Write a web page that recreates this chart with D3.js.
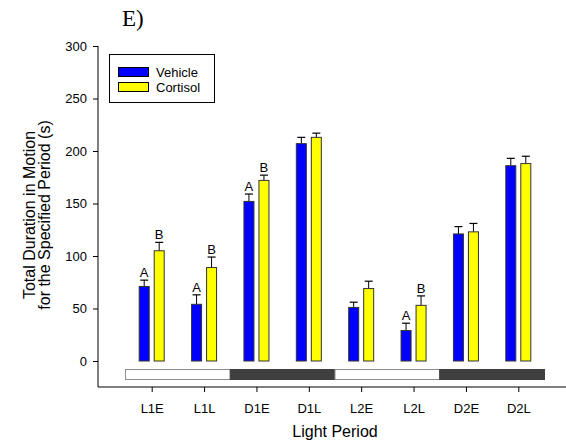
<!DOCTYPE html>
<html>
<head>
<meta charset="utf-8">
<script src="https://cdn.jsdelivr.net/npm/d3@7/dist/d3.min.js"></script>
<style>
  body { margin: 0; background: #fff; }
  svg { display: block; }
  text { font-family: "Liberation Sans", Arial, sans-serif; }
</style>
</head>
<body>
<svg id="chart" width="566" height="446"></svg>
<script>
const categories = ["L1E", "L1L", "D1E", "D1L", "L2E", "L2L", "D2E", "D2L"];
const seriesNames = ["Vehicle", "Cortisol"];
const vehicle = [71, 54, 152, 207, 51, 29, 121, 186];
const vehicleErr = [6, 9, 7, 6, 5, 7, 7, 7];
const cortisol = [105, 89, 172, 213, 69, 53, 123, 188];
const cortisolErr = [8, 10, 5, 4, 7, 9, 8, 7];
const vehicleLetters = ["A", "A", "A", "", "", "A", "", ""];
const cortisolLetters = ["B", "B", "B", "", "", "B", "", ""];
const lightPhases = ["light", "dark", "light", "dark"];
const yTicks = [0, 50, 100, 150, 200, 250, 300];

const colors = { Vehicle: "#0000ff", Cortisol: "#ffff00" };
const svg = d3.select("#chart");

const x = d3.scalePoint().domain(categories).range([151.7, 518.3]);
const step = x.step();
const y = d3.scaleLinear().domain([0, 300]).range([361, 46]);
const xAxisY = 387;
const axisX = 98;
const sans = "'Liberation Sans', Arial, sans-serif";

// Y axis
const yAxis = svg.append("g").attr("transform", `translate(${axisX},0)`)
  .call(d3.axisLeft(y).tickValues(yTicks).tickSize(5).tickPadding(6));
yAxis.select(".domain").remove();
yAxis.selectAll("text").attr("font-size", 13).attr("fill", "#000").style("font-family", sans);
yAxis.selectAll("line").attr("stroke", "#000");
svg.append("line").attr("x1", axisX).attr("x2", axisX).attr("y1", y(300)).attr("y2", xAxisY)
  .attr("stroke", "#000").attr("stroke-width", 1);

// X axis
const xAxis = svg.append("g").attr("transform", `translate(0,${xAxisY})`)
  .call(d3.axisBottom(x).tickSize(5).tickPadding(12));
xAxis.select(".domain").remove();
xAxis.selectAll("text").attr("font-size", 13).attr("fill", "#000").style("font-family", sans);
xAxis.selectAll("line").attr("stroke", "#000");
svg.append("line").attr("x1", axisX).attr("x2", 566).attr("y1", xAxisY).attr("y2", xAxisY)
  .attr("stroke", "#000").attr("stroke-width", 1);

// Light/dark band
lightPhases.forEach((p, i) => {
  const c0 = categories[i * 2], c1 = categories[i * 2 + 1];
  const x0 = x(c0) - step / 2, x1 = x(c1) + step / 2;
  svg.append("rect").attr("x", x0).attr("y", 369.5).attr("width", x1 - x0).attr("height", 10)
    .attr("fill", p === "light" ? "#ffffff" : "#3f3f3f")
    .attr("stroke", p === "light" ? "#8c8c8c" : "#3f3f3f").attr("stroke-width", 1);
});

// Bars
const barW = 10, off = 7.5;
const series = [
  { name: "Vehicle", vals: vehicle, err: vehicleErr, letters: vehicleLetters, dx: -off },
  { name: "Cortisol", vals: cortisol, err: cortisolErr, letters: cortisolLetters, dx: off }
];
series.forEach(s => {
  const g = svg.append("g");
  categories.forEach((c, i) => {
    const cx = x(c) + s.dx;
    const v = s.vals[i], e = s.err[i];
    g.append("line").attr("x1", cx).attr("x2", cx).attr("y1", y(v)).attr("y2", y(v + e))
      .attr("stroke", "#000").attr("stroke-width", 1);
    g.append("line").attr("x1", cx - 4).attr("x2", cx + 4).attr("y1", y(v + e)).attr("y2", y(v + e))
      .attr("stroke", "#000").attr("stroke-width", 1.2);
    g.append("rect").attr("x", cx - barW / 2).attr("y", y(v)).attr("width", barW).attr("height", y(0) - y(v))
      .attr("fill", colors[s.name]).attr("stroke", "#333").attr("stroke-width", 1);
    if (s.letters[i]) {
      g.append("text").attr("x", cx).attr("y", y(v + e) - 3).attr("text-anchor", "middle")
        .attr("font-size", 13).attr("fill", "#000").text(s.letters[i]);
    }
  });
});

// Legend
const lg = svg.append("g");
lg.append("rect").attr("x", 109.5).attr("y", 54.5).attr("width", 105).attr("height", 48)
  .attr("fill", "#fff").attr("stroke", "#000").attr("stroke-width", 1);
seriesNames.forEach((n, i) => {
  const yy = 67 + i * 15;
  lg.append("rect").attr("x", 118.5).attr("y", yy + 0.5).attr("width", 30).attr("height", 9)
    .attr("fill", colors[n]).attr("stroke", "#000").attr("stroke-width", 1);
  lg.append("text").attr("x", 156).attr("y", yy + 9.5).attr("font-size", 13).attr("fill", "#000").text(n);
});

// Title
svg.append("text").attr("x", 122).attr("y", 26).attr("font-size", 23)
  .style("font-family", "'Liberation Serif', 'Times New Roman', serif").attr("fill", "#000").text("E)");

// Y title
const yt = svg.append("text").attr("transform", "translate(0,215) rotate(-90)")
  .attr("text-anchor", "middle").attr("font-size", 16).attr("fill", "#000");
yt.append("tspan").attr("x", 0).attr("y", 35).text("Total Duration in Motion");
yt.append("tspan").attr("x", 0).attr("y", 50).text("for the Specified Period (s)");

// X title
svg.append("text").attr("x", 335).attr("y", 437).attr("text-anchor", "middle")
  .attr("font-size", 16).attr("fill", "#000").text("Light Period");
</script>
</body>
</html>
